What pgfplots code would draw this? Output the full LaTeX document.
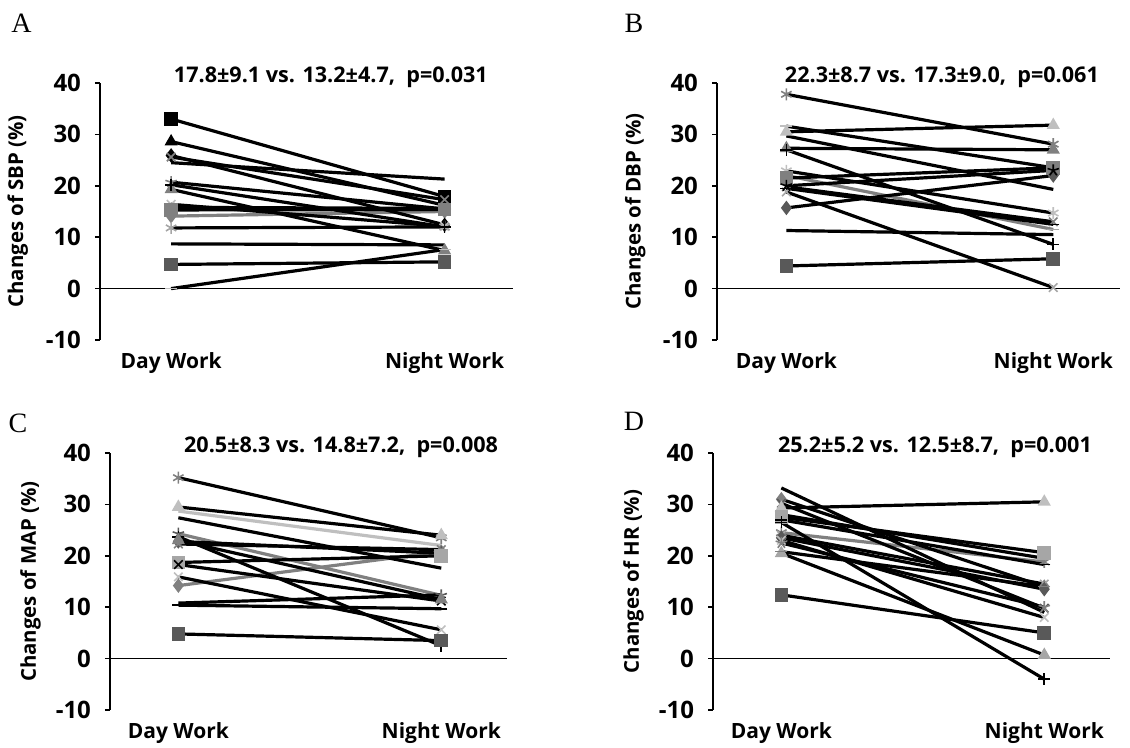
\documentclass[border=0pt]{standalone}
\usepackage{fontspec}
\setmainfont{Open Sans}
\newfontfamily\letterfont{Liberation Serif}
\usepackage{pgfplots}
\pgfplotsset{compat=1.18}
\definecolor{g1}{HTML}{595959}
\definecolor{g2}{HTML}{808080}
\definecolor{g3}{HTML}{A6A6A6}
\definecolor{g4}{HTML}{BFBFBF}
\definecolor{g5}{HTML}{D9D9D9}
\pgfplotsset{
  panel/.style={
    scale only axis, height=128.5pt,
    xmin=-0.26, xmax=1.25, ymin=-10, ymax=40,
    axis y line*=left, axis x line*=bottom,
    x axis line style={draw=none},
    y axis line style={-, line width=0.8pt},
    xtick={0,1}, xticklabels={Day Work, Night Work},
    xtick style={draw=none},
    ytick={-10,0,...,40},
    tick align=outside, major tick length=2.5pt,
    ytick style={black, line width=0.8pt},
    yticklabel style={font=\bfseries\fontsize{12}{13}\selectfont, xshift=-3.5pt},
    xticklabel style={font=\bfseries\fontsize{10.5}{12}\selectfont},
    /pgf/number format/assume math mode=true,
    title style={anchor=center, yshift=-6pt, font=\bfseries\fontsize{10.8}{12}\selectfont},
    ylabel style={anchor=center, font=\bfseries\fontsize{10.2}{11}\selectfont},
    clip=false,
  },
  ln/.style={black, line width=1.6pt},
  mk/.style 2 args={mark=#1, mark size=3pt, mark options={solid, fill=#2, draw=#2, line width=0.8pt}},
}
\begin{document}
\begin{tikzpicture}
\path[use as bounding box] (0,0) rectangle (565pt,374pt);

% A: SBP
\begin{axis}[panel, at={(50pt,204pt)}, anchor=south west, width=206.5pt,
  title={17.8±9.1 vs. 13.2±4.7,\ \ p=0.031},
  title style={at={(axis description cs:0.559,1.023)}},
  ylabel={Changes of SBP (\%)},
  ylabel style={at={(axis description cs:-0.199,0.5)}}]
\draw[line width=0.8pt] (axis cs:-0.26,0) -- (axis cs:1.25,0);
\addplot[ln, mk={diamond*}{g2}, draw=g2] coordinates {(0,14.1) (1,15.0)};
\addplot[ln, mk={square*}{black}] coordinates {(0,33.0) (1,17.9)};
\addplot[ln, mk={triangle*}{black}] coordinates {(0,28.6) (1,16.2)};
\addplot[ln, mk={diamond*}{black}] coordinates {(0,25.9) (1,12.4)};
\addplot[ln, mk={circle*}{black}] coordinates {(0,24.5) (1,21.3)};
\addplot[ln, mk={x}{g2}] coordinates {(0,25.6) (1,17.3)};
\addplot[ln, mk={star}{g2}] coordinates {(0,20.7) (1,15.5)};
\addplot[ln, mk={triangle*}{g2}] coordinates {(0,19.3) (1,7.4)};
\addplot[ln, mk={x}{g4}] coordinates {(0,16.4) (1,12.1)};
\addplot[ln, mk={-}{g2}] coordinates {(0,15.8) (1,15.6)};
\addplot[ln, mk={square*}{g2}] coordinates {(0,15.3) (1,15.4)};
\addplot[ln, mk={asterisk}{g3}] coordinates {(0,11.8) (1,12.0)};
\addplot[ln, mk={circle*}{g2}] coordinates {(0,8.7) (1,8.5)};
\addplot[ln, mk={square*}{g1}] coordinates {(0,4.7) (1,5.2)};
\addplot[ln, mk={-}{g4}] coordinates {(0,0.0) (1,7.6)};
\addplot[ln, mk={+}{black}] coordinates {(0,20.2) (1,12.0)};
\node[font=\letterfont\fontsize{14}{14}\selectfont] at (axis description cs:-0.19,1.233) {A};
\end{axis}

% B: DBP
\begin{axis}[panel, at={(358.5pt,204pt)}, anchor=south west, width=201.5pt,
  title={22.3±8.7 vs. 17.3±9.0,\ \ p=0.061},
  title style={at={(axis description cs:0.558,1.023)}},
  ylabel={Changes of DBP (\%)},
  ylabel style={at={(axis description cs:-0.203,0.5)}}]
\draw[line width=0.8pt] (axis cs:-0.26,0) -- (axis cs:1.25,0);
\addplot[ln, mk={-}{g3}, draw=g2] coordinates {(0,22.0) (1,11.5)};
\addplot[ln, mk={asterisk}{g2}] coordinates {(0,37.8) (1,28.1)};
\addplot[ln, mk={-}{g4}] coordinates {(0,31.6) (1,23.5)};
\addplot[ln, mk={triangle*}{g4}] coordinates {(0,30.5) (1,31.8)};
\addplot[ln, mk={circle*}{g5}] coordinates {(0,29.7) (1,19.3)};
\addplot[ln, mk={triangle*}{g2}] coordinates {(0,27.3) (1,27.0)};
\addplot[ln, mk={+}{black}] coordinates {(0,27.0) (1,8.6)};
\addplot[ln, mk={asterisk}{g4}] coordinates {(0,22.9) (1,14.7)};
\addplot[ln, mk={square*}{g2}] coordinates {(0,21.5) (1,23.5)};
\addplot[ln, mk={x}{g2}] coordinates {(0,19.8) (1,13.0)};
\addplot[ln, mk={x}{g3}] coordinates {(0,18.8) (1,0.2)};
\addplot[ln, mk={diamond*}{g1}] coordinates {(0,15.7) (1,22.0)};
\addplot[ln, mk={circle*}{g2}] coordinates {(0,11.3) (1,10.5)};
\addplot[ln, mk={square*}{g1}] coordinates {(0,4.4) (1,5.8)};
\addplot[ln, mk={star}{black}] coordinates {(0,20.0) (1,23.0)};
\addplot[ln, mk={-}{black}] coordinates {(0,19.5) (1,12.5)};
\node[font=\letterfont\fontsize{14}{14}\selectfont] at (axis description cs:-0.206,1.233) {B};
\end{axis}

% C: MAP
\begin{axis}[panel, at={(55pt,19pt)}, anchor=south west, width=198.5pt,
  title={20.5±8.3 vs. 14.8±7.2,\ \ p=0.008},
  title style={at={(axis description cs:0.582,1.023)}},
  ylabel={Changes of MAP (\%)},
  ylabel style={at={(axis description cs:-0.2,0.5)}}]
\draw[line width=0.8pt] (axis cs:-0.26,0) -- (axis cs:1.25,0);
\addplot[ln, mk={circle*}{g5}, draw=g4] coordinates {(0,28.7) (1,22.0)};
\addplot[ln, mk={star}{g1}, draw=g2] coordinates {(0,24.3) (1,12.3)};
\addplot[ln, mk={diamond*}{g2}, draw=g2] coordinates {(0,14.2) (1,20.8)};
\addplot[ln, mk={asterisk}{g2}] coordinates {(0,35.2) (1,23.5)};
\addplot[ln, mk={triangle*}{g4}] coordinates {(0,29.5) (1,24.0)};
\addplot[ln, mk={circle*}{g5}] coordinates {(0,27.4) (1,17.6)};
\addplot[ln, mk={+}{black}] coordinates {(0,23.7) (1,2.5)};
\addplot[ln, mk={diamond*}{g1}] coordinates {(0,22.8) (1,20.5)};
\addplot[ln, mk={x}{g2}] coordinates {(0,22.3) (1,21.2)};
\addplot[ln, mk={square*}{g3}] coordinates {(0,18.7) (1,20.0)};
\addplot[ln, mk={x}{black}] coordinates {(0,18.3) (1,11.2)};
\addplot[ln, mk={x}{g4}] coordinates {(0,15.9) (1,5.6)};
\addplot[ln, mk={circle*}{g2}] coordinates {(0,10.8) (1,12.4)};
\addplot[ln, mk={-}{black}] coordinates {(0,10.4) (1,9.7)};
\addplot[ln, mk={square*}{g1}] coordinates {(0,4.8) (1,3.5)};
\addplot[ln, mk={triangle*}{g2}] coordinates {(0,23.0) (1,11.5)};
\node[font=\letterfont\fontsize{14}{14}\selectfont] at (axis description cs:-0.232,1.117) {C};
\end{axis}

% D: HR
\begin{axis}[panel, at={(356.5pt,19pt)}, anchor=south west, width=198.5pt,
  title={25.2±5.2 vs. 12.5±8.7,\ \ p=0.001},
  title style={at={(axis description cs:0.559,1.023)}},
  ylabel={Changes of HR (\%)},
  ylabel style={at={(axis description cs:-0.2,0.5)}}]
\draw[line width=0.8pt] (axis cs:-0.26,0) -- (axis cs:1.25,0);
\addplot[ln, mk={asterisk}{g2}, draw=g2] coordinates {(0,24.5) (1,18.8)};
\addplot[ln, mk={circle*}{g2}] coordinates {(0,33.2) (1,9.0)};
\addplot[ln, mk={diamond*}{g2}] coordinates {(0,31.0) (1,14.0)};
\addplot[ln, mk={x}{g1}] coordinates {(0,30.2) (1,9.8)};
\addplot[ln, mk={triangle*}{g4}] coordinates {(0,29.3) (1,30.5)};
\addplot[ln, mk={circle*}{g5}] coordinates {(0,28.0) (1,19.5)};
\addplot[ln, mk={square*}{g3}] coordinates {(0,27.5) (1,20.6)};
\addplot[ln, mk={-}{black}] coordinates {(0,27.0) (1,18.3)};
\addplot[ln, mk={+}{black}] coordinates {(0,26.5) (1,-4.0)};
\addplot[ln, mk={x}{g3}] coordinates {(0,24.0) (1,14.5)};
\addplot[ln, mk={diamond*}{g1}] coordinates {(0,23.5) (1,13.5)};
\addplot[ln, mk={x}{g4}] coordinates {(0,23.0) (1,8.0)};
\addplot[ln, mk={star}{g2}] coordinates {(0,22.5) (1,10.0)};
\addplot[ln, mk={triangle*}{g3}] coordinates {(0,20.5) (1,0.7)};
\addplot[ln, mk={-}{g2}] coordinates {(0,20.8) (1,14.0)};
\addplot[ln, mk={square*}{g1}] coordinates {(0,12.4) (1,5.0)};
\node[font=\letterfont\fontsize{14}{14}\selectfont] at (axis description cs:-0.199,1.125) {D};
\end{axis}
\end{tikzpicture}
\end{document}
